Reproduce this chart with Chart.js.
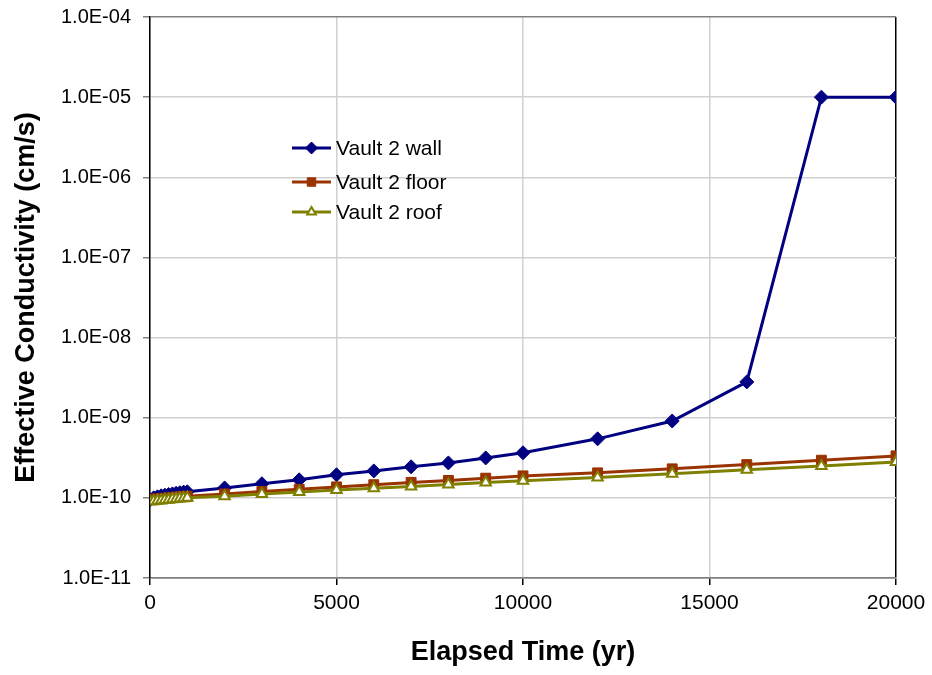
<!DOCTYPE html>
<html>
<head>
<meta charset="utf-8">
<script src="https://cdn.jsdelivr.net/npm/chart.js@4/dist/chart.umd.min.js"></script>
<style>
  body { margin: 0; background: #fff; }
  canvas { display: block; }
</style>
</head>
<body>
<canvas id="graph" width="932" height="675"></canvas>
<script>
// elapsed time (yr)
var years = [0, 100, 200, 300, 400, 500, 600, 700, 800, 900, 1000,
  2000, 3000, 4000, 5000, 6000, 7000, 8000, 9000, 10000,
  12000, 14000, 16000, 18000, 20000];

// effective conductivity (cm/s)
var wall = [9.5e-11, 1.0e-10, 1.03e-10, 1.06e-10, 1.08e-10, 1.1e-10, 1.12e-10, 1.14e-10, 1.16e-10, 1.18e-10, 1.19e-10,
  1.33e-10, 1.5e-10, 1.68e-10, 1.94e-10, 2.17e-10, 2.44e-10, 2.73e-10, 3.15e-10, 3.65e-10,
  5.45e-10, 9.1e-10, 2.8e-9, 1.0e-5, 1.0e-5];
var floor = [9.5e-11, 9.6e-11, 9.7e-11, 9.8e-11, 9.9e-11, 1.0e-10, 1.01e-10, 1.02e-10, 1.03e-10, 1.04e-10, 1.05e-10,
  1.12e-10, 1.2e-10, 1.28e-10, 1.37e-10, 1.46e-10, 1.56e-10, 1.65e-10, 1.76e-10, 1.88e-10,
  2.05e-10, 2.3e-10, 2.6e-10, 2.95e-10, 3.34e-10];
var roof = [9.0e-11, 9.1e-11, 9.2e-11, 9.3e-11, 9.4e-11, 9.5e-11, 9.6e-11, 9.7e-11, 9.8e-11, 9.9e-11, 1.0e-10,
  1.05e-10, 1.12e-10, 1.18e-10, 1.25e-10, 1.32e-10, 1.39e-10, 1.47e-10, 1.55e-10, 1.63e-10,
  1.8e-10, 2.0e-10, 2.25e-10, 2.5e-10, 2.8e-10];

var seriesNames = ['Vault 2 wall', 'Vault 2 floor', 'Vault 2 roof'];
var yTicks = [1e-11, 1e-10, 1e-9, 1e-8, 1e-7, 1e-6, 1e-5, 1e-4];
var xTitle = 'Elapsed Time (yr)';
var yTitle = 'Effective Conductivity (cm/s)';

const FONT = "'Liberation Sans', Arial, sans-serif";

function points(vals) {
  return years.map(function (yr, i) { return { x: yr, y: vals[i] }; });
}

function sci(v) {
  var e = Math.round(Math.log10(v));
  var s = Math.abs(e) < 10 ? '0' + Math.abs(e) : '' + Math.abs(e);
  return '1.0E' + (e < 0 ? '-' : '+') + s;
}

// legend drawn inside the plot area, like the original
var insideLegend = {
  id: 'insideLegend',
  afterDatasetsDraw: function (chart) {
    var ctx = chart.ctx;
    var rows = [148, 182, 212];
    ctx.save();
    chart.data.datasets.forEach(function (ds, i) {
      var y = rows[i];
      ctx.strokeStyle = ds.borderColor;
      ctx.lineWidth = 3;
      ctx.beginPath();
      ctx.moveTo(292, y);
      ctx.lineTo(331, y);
      ctx.stroke();
      ctx.fillStyle = ds.pointBackgroundColor;
      ctx.strokeStyle = ds.pointBorderColor;
      ctx.lineWidth = ds.pointBorderWidth;
      Chart.helpers.drawPoint(ctx, {
        pointStyle: ds.pointStyle,
        radius: ds.pointRadius - 1,
        rotation: 0,
        borderWidth: ds.pointBorderWidth
      }, 311.5, y);
      ctx.fillStyle = '#000';
      ctx.font = '21px ' + FONT;
      ctx.textBaseline = 'middle';
      ctx.textAlign = 'left';
      ctx.fillText(seriesNames[i], 336, y + 1);
    });
    ctx.restore();
  }
};

var ctx = document.getElementById('graph').getContext('2d');
var chart = new Chart(ctx, {
  type: 'line',
  data: {
    datasets: [{
      label: seriesNames[0],
      data: points(wall),
      borderColor: '#000080',
      backgroundColor: '#000080',
      pointBackgroundColor: '#000080',
      pointBorderColor: '#000080',
      pointBorderWidth: 1,
      pointStyle: 'rectRot',
      pointRadius: 7,
      borderWidth: 3,
      tension: 0,
      order: 3
    },
    {
      label: seriesNames[1],
      data: points(floor),
      borderColor: '#993300',
      backgroundColor: '#993300',
      pointBackgroundColor: '#993300',
      pointBorderColor: '#993300',
      pointBorderWidth: 1,
      pointStyle: 'rect',
      pointRadius: 7,
      borderWidth: 3,
      tension: 0,
      order: 2
    },
    {
      label: seriesNames[2],
      data: points(roof),
      borderColor: '#808000',
      backgroundColor: '#808000',
      pointBackgroundColor: '#ffffff',
      pointBorderColor: '#808000',
      pointBorderWidth: 2,
      pointStyle: 'triangle',
      pointRadius: 6,
      borderWidth: 3,
      tension: 0,
      order: 1
    }]
  },
  options: {
    responsive: false,
    animation: false,
    layout: { padding: { top: 17, right: 36, left: 0, bottom: 0 } },
    scales: {
      x: {
        type: 'linear',
        min: 0,
        max: 20000,
        afterFit: function (scale) { scale.height = 97; },
        grid: {
          color: function (c) { return c.tick && c.tick.value === 20000 ? '#000000' : '#d0d0d0'; },
          lineWidth: 1.5,
          tickLength: 7,
          tickColor: '#000000'
        },
        border: { color: '#808080', width: 1.5 },
        ticks: {
          stepSize: 5000,
          color: '#000',
          padding: 6,
          maxRotation: 0,
          font: { family: FONT, size: 21 },
          callback: function (v) { return String(v); }
        },
        title: {
          display: true,
          text: xTitle,
          color: '#000',
          padding: { top: 4, bottom: 6 },
          font: { family: FONT, size: 27, weight: 'bold' }
        }
      },
      y: {
        type: 'logarithmic',
        min: 1e-11,
        max: 1e-4,
        afterFit: function (scale) {
          scale.width = 150;
          scale.paddingTop = 0;
          scale.paddingBottom = 0;
        },
        afterBuildTicks: function (scale) {
          scale.ticks = yTicks.map(function (v) { return { value: v }; });
        },
        grid: {
          color: function (c) {
            var v = c.tick && c.tick.value;
            return (v === 1e-4 || v === 1e-11) ? '#808080' : '#d0d0d0';
          },
          lineWidth: 1.5,
          tickLength: 7,
          tickColor: '#808080'
        },
        border: { color: '#000000', width: 1.5 },
        ticks: {
          color: '#000',
          padding: 12,
          font: { family: FONT, size: 20 },
          callback: function (v) { return sci(v); }
        },
        title: {
          display: true,
          text: yTitle,
          color: '#000',
          padding: { top: 10, bottom: 4 },
          font: { family: FONT, size: 27, weight: 'bold' }
        }
      }
    },
    plugins: {
      legend: { display: false },
      tooltip: { enabled: false }
    }
  },
  plugins: [insideLegend]
});
</script>
</body>
</html>
